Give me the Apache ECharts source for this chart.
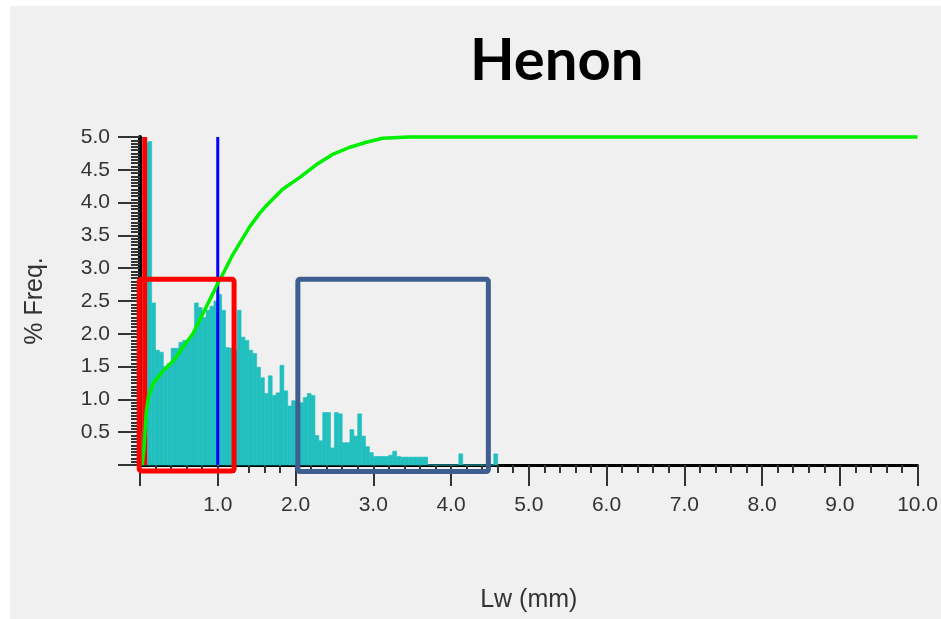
<!DOCTYPE html>
<html>
<head>
<meta charset="utf-8">
<title>Henon</title>
<script src="https://cdn.jsdelivr.net/npm/echarts@6/dist/echarts.min.js"></script>
<style>
  html, body { margin: 0; padding: 0; background: #ffffff; }
  #chart { width: 941px; height: 619px; }
</style>
</head>
<body>
<div id="chart"></div>
<script>
// Histogram of Lw (mm): bin width and % frequency per bin, starting at 0
const binWidth = 0.05;
const freqPct = [
  0.5, 4.9, 4.93, 2.47, 1.75, 1.72, 1.5, 1.55, 1.78, 1.78,
  1.87, 1.9, 1.9, 1.98, 2.47, 2.4, 2.25, 2.36, 2.42, 2.5,
  2.6, 2.36, 1.79, 1.78, 1.75, 2.36, 1.95, 1.9, 1.75, 1.7,
  1.49, 1.33, 1.09, 1.36, 1.06, 1.1, 1.52, 1.13, 0.9, 0.98,
  0.95, 0.95, 1.03, 1.09, 1.06, 0.45, 0.37, 0.8, 0.8, 0.26,
  0.8, 0.78, 0.34, 0.34, 0.54, 0.44, 0.78, 0.44, 0.28, 0.19,
  0.13, 0.13, 0.13, 0.13, 0.15, 0.21, 0.13, 0.12, 0.12, 0.12,
  0.12, 0.12, 0.12, 0.12, 0, 0, 0, 0, 0, 0,
  0, 0, 0.17, 0, 0, 0, 0, 0, 0, 0,
  0, 0.17
];

// Cumulative curve (scaled to the top of the % Freq. axis)
const cumLw = [0.03, 0.05, 0.08, 0.11, 0.17, 0.3, 0.43, 0.55, 0.68, 0.81, 0.94, 1.0, 1.07, 1.19, 1.41, 1.54, 1.63, 1.83, 2.05, 2.27, 2.47, 2.69, 2.91, 3.12, 3.46, 10.0];
const cumFreq = [0, 0.25, 0.8, 1.05, 1.24, 1.44, 1.59, 1.79, 2.0, 2.31, 2.62, 2.77, 2.92, 3.2, 3.63, 3.84, 3.96, 4.2, 4.38, 4.58, 4.73, 4.84, 4.92, 4.98, 5.0, 5.0];

// Vertical marker positions (mm)
const markerRedLw = 0.06;
const markerBlueLw = 1.0;

// Highlight boxes: [lwFrom, lwTo, freqFrom, freqTo]
const boxFine = [-0.01, 1.21, -0.09, 2.83];
const boxCoarse = [2.03, 4.48, -0.1, 2.83];

// Axis tick settings
const xTicks = { min: 0, max: 10, step: 1 };
const yTicks = { min: 0, max: 5, step: 0.5 };

const histRows = freqPct.map((v, i) => [i * binWidth, (i + 1) * binWidth, v]);
const cumRows = cumLw.map((x, i) => [x, cumFreq[i]]);

function boxSeries(box, color) {
  return {
    type: 'custom',
    clip: false,
    z: 6,
    silent: true,
    encode: { x: [0, 1], y: [2, 3] },
    data: [box],
    renderItem(params, api) {
      const a = api.coord([api.value(0), api.value(3)]);
      const b = api.coord([api.value(1), api.value(2)]);
      return {
        type: 'rect',
        shape: { x: a[0], y: a[1], width: b[0] - a[0], height: b[1] - a[1], r: 2 },
        style: { fill: 'none', stroke: color, lineWidth: 5 }
      };
    }
  };
}

const tickText = { fontFamily: 'Liberation Sans, Arial, sans-serif', fontSize: 21, color: '#333333' };

const chart = echarts.init(document.getElementById('chart'), null, { renderer: 'canvas' });
chart.setOption({
  animation: false,
  backgroundColor: '#ffffff',
  graphic: [{
    type: 'rect',
    z: -10,
    silent: true,
    shape: { x: 10, y: 6, width: 931, height: 613 },
    style: { fill: '#f0f0f0' }
  }],
  title: {
    text: 'Henon',
    left: 465,
    top: 27,
    textStyle: { fontFamily: 'Lato, sans-serif', fontWeight: 'bold', fontSize: 58, color: '#000000' }
  },
  grid: { left: 140, right: 21, top: 137, bottom: 154, containLabel: false },
  xAxis: {
    type: 'value',
    min: xTicks.min,
    max: xTicks.max,
    interval: xTicks.step,
    name: 'Lw (mm)',
    nameLocation: 'middle',
    nameGap: 123,
    nameTextStyle: { fontFamily: 'Liberation Sans, Arial, sans-serif', fontSize: 25, color: '#333333' },
    axisLine: { onZero: false, lineStyle: { color: '#000000', width: 3 } },
    axisTick: { length: 21, lineStyle: { color: '#333333', width: 2 } },
    minorTick: { show: true, splitNumber: 5, length: 8, lineStyle: { color: '#333333', width: 2 } },
    axisLabel: Object.assign({ margin: 30, showMaxLabel: true,
      formatter: v => (v === 0 ? '' : v.toFixed(1)) }, tickText),
    splitLine: { show: false }
  },
  yAxis: {
    type: 'value',
    min: yTicks.min,
    max: yTicks.max,
    interval: yTicks.step,
    name: '% Freq.',
    nameLocation: 'middle',
    nameGap: 92,
    nameTextStyle: { fontFamily: 'Liberation Sans, Arial, sans-serif', fontSize: 25, color: '#333333' },
    axisLine: { onZero: false, lineStyle: { color: '#000000', width: 4 } },
    axisTick: { length: 22, lineStyle: { color: '#333333', width: 2 } },
    minorTick: { show: true, splitNumber: 10, length: 9, lineStyle: { color: '#333333', width: 2 } },
    axisLabel: Object.assign({ margin: 30,
      formatter: v => (v === 0 ? '' : v.toFixed(1)) }, tickText),
    splitLine: { show: false }
  },
  series: [
    {
      name: 'Frequency',
      type: 'custom',
      z: 1,
      silent: true,
      encode: { x: [0, 1], y: 2 },
      data: histRows,
      renderItem(params, api) {
        const top = api.coord([api.value(0), api.value(2)]);
        const base = api.coord([api.value(1), 0]);
        return {
          type: 'rect',
          shape: { x: top[0], y: top[1], width: base[0] - top[0], height: base[1] - top[1] },
          style: { fill: '#22bfbf', stroke: '#22bfbf', lineWidth: 0.6 }
        };
      }
    },
    {
      name: 'Marker red',
      type: 'line',
      z: 3,
      silent: true,
      showSymbol: false,
      data: [[markerRedLw, yTicks.min], [markerRedLw, yTicks.max]],
      lineStyle: { color: '#ff0000', width: 5 }
    },
    {
      name: 'Marker blue',
      type: 'line',
      z: 3,
      silent: true,
      showSymbol: false,
      data: [[markerBlueLw, yTicks.min], [markerBlueLw, yTicks.max]],
      lineStyle: { color: '#0000ff', width: 3 }
    },
    {
      name: 'Cumulative',
      type: 'line',
      z: 4,
      silent: true,
      showSymbol: false,
      clip: false,
      data: cumRows,
      lineStyle: { color: '#00ee00', width: 3.5 }
    },
    boxSeries(boxFine, '#ff0000'),
    boxSeries(boxCoarse, '#3d5e8e')
  ]
});
</script>
</body>
</html>
